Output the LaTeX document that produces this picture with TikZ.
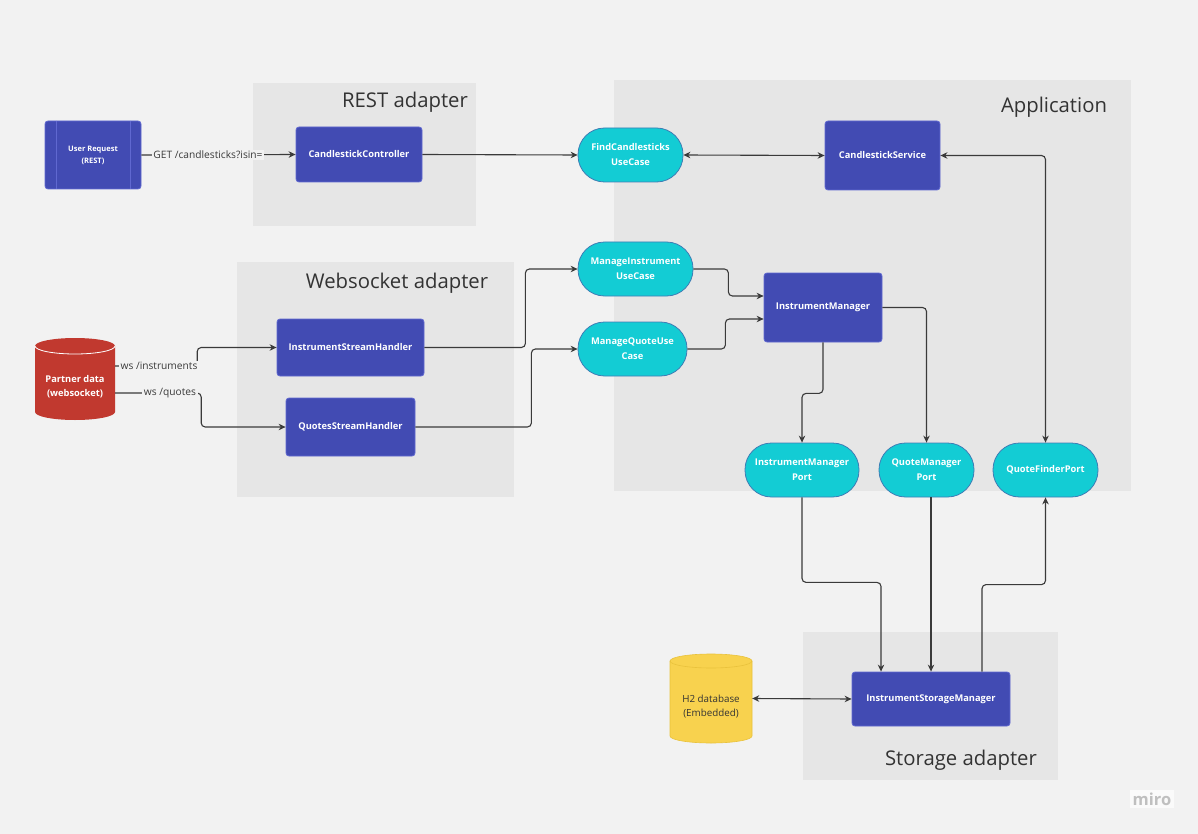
\documentclass[tikz,border=0pt]{standalone}
\usepackage{fontspec}
\setmainfont{Open Sans}
\usetikzlibrary{calc,arrows.meta}
\definecolor{bgc}{HTML}{F2F2F2}
\definecolor{grpc}{HTML}{E6E6E6}
\definecolor{bluef}{HTML}{424BB3}
\definecolor{blued}{HTML}{6068D0}
\definecolor{cyanf}{HTML}{13CCD4}
\definecolor{cyand}{HTML}{3F7DB5}
\definecolor{redf}{HTML}{C1392F}
\definecolor{yelf}{HTML}{F8D24E}
\definecolor{yeld}{HTML}{E9C23C}
\definecolor{linec}{HTML}{3A3A3A}
\definecolor{titc}{HTML}{333333}
\tikzset{
  grp/.style={fill=grpc, draw=none, anchor=north west, inner sep=0pt},
  grptitle/.style={text=titc, font=\fontsize{20.3}{24}\selectfont, inner sep=0pt},
  bbox/.style={fill=bluef, draw=blued, line width=0.8pt, rounded corners=3pt, text=white,
    align=center, font=\bfseries\fontsize{9.3}{15}\selectfont, inner sep=0pt},
  ubox/.style={fill=cyanf, draw=cyand, line width=0.8pt, rounded corners=26.5pt, text=white,
    align=center, font=\bfseries\fontsize{9.3}{15}\selectfont, inner sep=0pt, minimum height=54pt},
  lbl/.style={fill=bgc, text=linec, font=\fontsize{10.2}{12}\selectfont, inner sep=1.5pt},
  conn/.style={draw=linec, line width=1.1pt, rounded corners=4pt},
  arr/.style={conn, -{Stealth[length=7pt,width=6.5pt]}},
  barr/.style={conn, {Stealth[length=7pt,width=6.5pt]}-{Stealth[length=7pt,width=6.5pt]}},
}
\begin{document}
\begin{tikzpicture}[x=1pt,y=-1pt]
\fill[bgc] (0,0) rectangle (1198,834);
\useasboundingbox (0,0) rectangle (1198,834);

% groups
\node[grp, minimum width=223pt, minimum height=143pt] (grest) at (253,83) {};
\node[grp, minimum width=517pt, minimum height=411pt] (gapp) at (614,80) {};
\node[grp, minimum width=277pt, minimum height=235pt] (gws) at (237,262) {};
\node[grp, minimum width=255pt, minimum height=148pt] (gsto) at (803,632) {};
\node[grptitle] (trest) at (405,102) {REST adapter};
\node[grptitle] (tapp) at (1054,107) {Application};
\node[grptitle] (tws) at (397,283) {Websocket adapter};
\node[grptitle] (tsto) at (961,760) {Storage adapter};

% nodes
\node[bbox, minimum width=96pt, minimum height=68pt, font=\bfseries\fontsize{7.5}{12}\selectfont] (ur) at (93,155) {User Request\\(REST)};
\draw[blued, line width=0.8pt] ($(ur.north west)+(12,0)$) -- ($(ur.south west)+(12,0)$);
\draw[blued, line width=0.8pt] ($(ur.north east)+(-11,0)$) -- ($(ur.south east)+(-11,0)$);
\node[bbox, minimum width=126pt, minimum height=55pt] (cc) at (359,154.5) {CandlestickController};
\node[ubox, minimum width=105pt] (fcu) at (630.5,155) {FindCandlesticks\\UseCase};
\node[bbox, minimum width=115pt, minimum height=69pt] (cs) at (882.5,155.5) {CandlestickService};
\node[ubox, minimum width=115pt] (miu) at (635.5,269) {ManageInstrument\\UseCase};
\node[ubox, minimum width=109pt] (mqu) at (632.5,349) {ManageQuoteUse\\Case};
\node[bbox, minimum width=118pt, minimum height=69pt] (im) at (823,307.5) {InstrumentManager};
\node[bbox, minimum width=147pt, minimum height=57pt] (ish) at (350.5,347.5) {InstrumentStreamHandler};
\node[bbox, minimum width=129pt, minimum height=58pt] (qsh) at (350.5,427) {QuotesStreamHandler};
\node[ubox, minimum width=114pt] (imp) at (802,470) {InstrumentManager\\Port};
\node[ubox, minimum width=95pt] (qmp) at (926.5,470) {QuoteManager\\Port};
\node[ubox, minimum width=105pt] (qfp) at (1045.5,470) {QuoteFinderPort};
\node[bbox, minimum width=158pt, minimum height=54pt] (ism) at (931,699) {InstrumentStorageManager};

% Partner data cylinder
\fill[redf] (35,346) -- (35,412) arc[start angle=180,end angle=360,x radius=40pt,y radius=8pt]
  -- (115,346) arc[start angle=0,end angle=180,x radius=40pt,y radius=8pt] -- cycle;
\draw[white, line width=0.8pt] (35,346) arc[start angle=180,end angle=360,x radius=40pt,y radius=8pt];
\node[draw=none, minimum width=80pt, minimum height=82pt, inner sep=0pt] (pd) at (75,379) {};
\node[text=white, align=center, font=\bfseries\fontsize{9.3}{14}\selectfont] (pdt) at (75,387) {Partner data\\(websocket)};

% H2 cylinder
\filldraw[fill=yelf, draw=yeld, line width=0.6pt] (670,661) -- (670,736) arc[start angle=180,end angle=360,x radius=41pt,y radius=7pt]
  -- (752,661) arc[start angle=0,end angle=180,x radius=41pt,y radius=7pt] -- cycle;
\draw[yeld, line width=0.6pt] (670,661) arc[start angle=180,end angle=360,x radius=41pt,y radius=7pt];
\node[draw=none, minimum width=82pt, minimum height=89pt, inner sep=0pt] (h2) at (711,698.5) {};
\node[text=titc, align=center, font=\fontsize{9.8}{14}\selectfont] (h2t) at (711,707) {H2 database\\(Embedded)};

% connectors
\draw[arr] (ur.east) -- (cc.west);
\draw[arr] (cc.east) -- (fcu.west);
\draw[barr] (fcu.east) -- (cs.west);
\draw[barr] (cs.east) -| (qfp.north);
\draw[arr] ($(pd.east)+(0,-13)$) -- ++(82,0) |- (ish.west);
\draw[arr] ($(pd.east)+(0,14)$) -- ++(86,0) |- (qsh.west);
\draw[arr] (ish.east) -- ++(101,0) |- (miu.west);
\draw[arr] (qsh.east) -- ++(116,0) |- (mqu.west);
\draw[arr] (miu.east) -- ++(35,0) |- ($(im.west)+(0,-11.5)$);
\draw[arr] (mqu.east) -- ++(38,0) |- ($(im.west)+(0,11.5)$);
\draw[arr] (im.south) -- ++(0,51) -| (imp.north);
\draw[arr] (im.east) -| (qmp.north);
\draw[arr] (imp.south) -- ++(0,85) -| ($(ism.north)+(-50,0)$);
\draw[arr] (ism.north |- qmp.south) -- (ism.north);
\draw[arr] ($(ism.north)+(51,0)$) -- ++(0,-87) -| (qfp.south);
\draw[barr] (h2.east) -- (ism.west);

% labels
\node[lbl] (l1) at (208,155) {GET /candlesticks?isin=};
\node[lbl] (l2) at (159,366) {ws /instruments};
\node[lbl] (l3) at (170,393) {ws /quotes};

% logo
\node[fill=white!60!bgc, text=black!25, font=\bfseries\fontsize{16.5}{18}\selectfont, inner sep=3pt] (logo) at (1152,799) {miro};
\end{tikzpicture}
\end{document}
